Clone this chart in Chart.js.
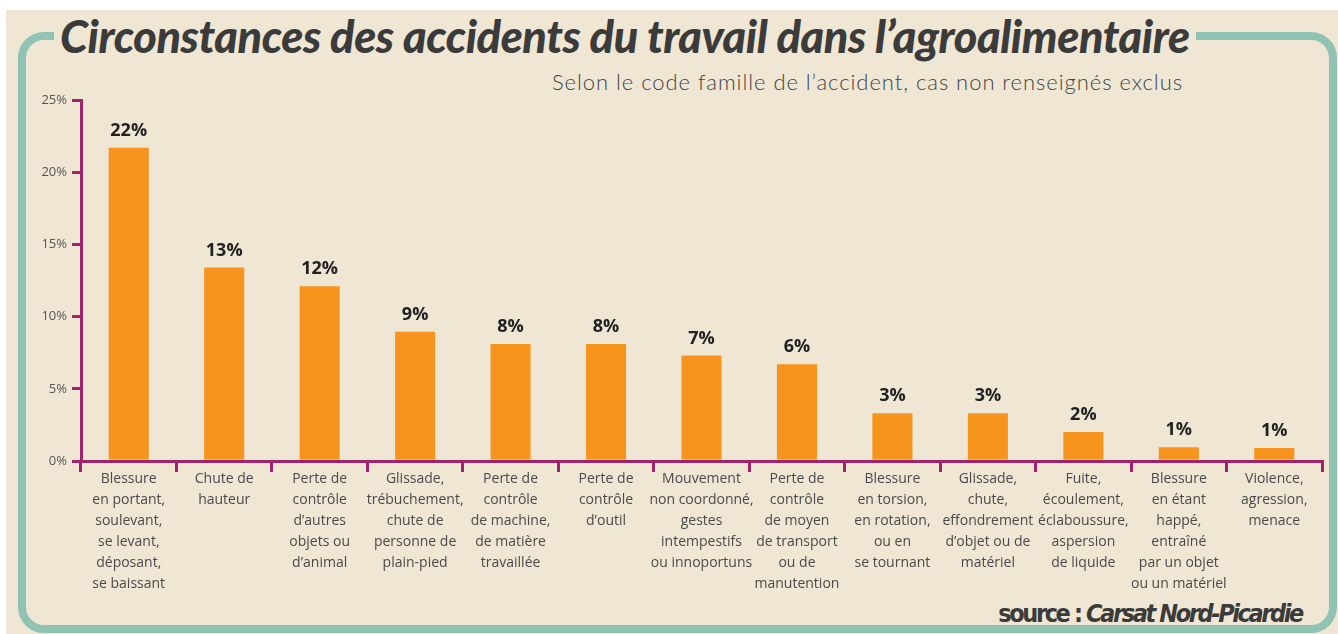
<!DOCTYPE html>
<html>
<head>
<meta charset="utf-8">
<title>Circonstances des accidents du travail dans l’agroalimentaire</title>
<script src="https://cdn.jsdelivr.net/npm/chart.js@4.4.0/dist/chart.umd.min.js"></script>
<style>
    html, body { margin: 0; padding: 0; background: #fff; }
    body { width: 1338px; height: 634px; position: relative; overflow: hidden; }
    #paper { position: absolute; left: 6px; top: 10px; width: 1332px; height: 624px; background: #efe7d4; }
    #frame { position: absolute; left: 18px; top: 32px; width: 1303px; height: 585px;
             border: 8px solid #91c3b5; border-radius: 26px; }
    .txt { position: absolute; white-space: nowrap; color: #3b3b3b; }
    #title { left: 54px; top: 12px; padding: 0 6px; background: #efe7d4;
             font: italic 900 45px/48px Lato, sans-serif; }
    #subtitle { right: 155px; top: 70px; font: 300 22px/24px Lato, sans-serif; color: #444; }
    #source { right: 36px; top: 600px; font: bold 25px/28px "Liberation Sans Narrow", "DejaVu Sans Condensed", sans-serif; }
    #source i { font-style: italic; }
    #wrap { position: absolute; left: 0; top: 0; width: 1338px; height: 634px; }
</style>
</head>
<body>
<div id="paper"></div>
<div id="frame"></div>
<span class="txt" id="title">Circonstances des accidents du travail dans l’agroalimentaire</span>
<span class="txt" id="subtitle">Selon le code famille de l’accident, cas non renseignés exclus</span>
<span class="txt" id="source">source : <i>Carsat Nord-Picardie</i></span>
<div id="wrap"><canvas id="myChart"></canvas></div>

<script>
// categories (multi-line labels as in the picture)
var categories = [
    ['Blessure', 'en portant,', 'soulevant,', 'se levant,', 'déposant,', 'se baissant'],
    ['Chute de', 'hauteur'],
    ['Perte de', 'contrôle', 'd’autres', 'objets ou', 'd’animal'],
    ['Glissade,', 'trébuchement,', 'chute de', 'personne de', 'plain-pied'],
    ['Perte de', 'contrôle', 'de machine,', 'de matière', 'travaillée'],
    ['Perte de', 'contrôle', 'd’outil'],
    ['Mouvement', 'non coordonné,', 'gestes', 'intempestifs', 'ou innoportuns'],
    ['Perte de', 'contrôle', 'de moyen', 'de transport', 'ou de', 'manutention'],
    ['Blessure', 'en torsion,', 'en rotation,', 'ou en', 'se tournant'],
    ['Glissade,', 'chute,', 'effondrement', 'd’objet ou de', 'matériel'],
    ['Fuite,', 'écoulement,', 'éclaboussure,', 'aspersion', 'de liquide'],
    ['Blessure', 'en étant', 'happé,', 'entraîné', 'par un objet', 'ou un matériel'],
    ['Violence,', 'agression,', 'menace']
];

// bar heights in %
var shares = [21.7, 13.4, 12.1, 8.95, 8.1, 8.1, 7.3, 6.7, 3.3, 3.3, 2.0, 0.95, 0.9];

// printed labels above the bars
var shareLabels = ['22%', '13%', '12%', '9%', '8%', '8%', '7%', '6%', '3%', '3%', '2%', '1%', '1%'];

// y axis
var yMin = 0;
var yMax = 25;
var yStep = 5;

var axisColor = '#a0236c';
var barColor = '#f7941d';

// stretch a text to the width it has in the picture
function fitWidth(id, target) {
    var el = document.getElementById(id);
    var pad = id === 'title' ? 12 : 0;
    var w = el.offsetWidth - pad;
    var n = el.textContent.length;
    el.style.letterSpacing = ((target - w) / n) + 'px';
}
fitWidth('title', 1130);
fitWidth('subtitle', 631);
fitWidth('source', 304);

// value labels on top of each bar
var barLabels = {
    id: 'barLabels',
    afterDatasetsDraw: function (chart) {
        var ctx = chart.ctx;
        var meta = chart.getDatasetMeta(0);
        ctx.save();
        ctx.font = 'bold 18px "Open Sans", sans-serif';
        ctx.fillStyle = '#222';
        ctx.textAlign = 'center';
        ctx.textBaseline = 'alphabetic';
        meta.data.forEach(function (bar, i) {
            ctx.fillText(shareLabels[i], bar.x, bar.y - 12);
        });
        ctx.restore();
    }
};

var ctx = document.getElementById('myChart').getContext('2d');
var myChart = new Chart(ctx, {
    type: 'bar',
    data: {
        labels: categories,
        datasets: [{
            data: shares,
            backgroundColor: barColor,
            borderWidth: 0,
            barPercentage: 0.42,
            categoryPercentage: 1
        }]
    },
    options: {
        responsive: true,
        maintainAspectRatio: false,
        animation: false,
        layout: {
            padding: { top: 100, right: 16, bottom: 0, left: 0 }
        },
        plugins: {
            legend: { display: false },
            tooltip: { enabled: false }
        },
        scales: {
            x: {
                offset: true,
                grid: {
                    offset: true,
                    drawOnChartArea: false,
                    color: axisColor,
                    lineWidth: 3,
                    tickLength: 11
                },
                border: { color: axisColor, width: 3 },
                ticks: {
                    autoSkip: false,
                    maxRotation: 0,
                    minRotation: 0,
                    padding: -3,
                    color: '#4a4a4a',
                    font: { family: '"Open Sans", sans-serif', size: 14, lineHeight: 1.5 }
                },
                afterFit: function (scale) { scale.height = 173; }
            },
            y: {
                min: yMin,
                max: yMax,
                grid: {
                    drawOnChartArea: false,
                    color: axisColor,
                    lineWidth: 3,
                    tickLength: 9
                },
                border: { color: axisColor, width: 3 },
                ticks: {
                    stepSize: yStep,
                    padding: 5,
                    color: '#555',
                    font: { family: '"Open Sans", sans-serif', size: 13 },
                    callback: function (value) { return value + '%'; }
                },
                afterFit: function (scale) { scale.width = 81; }
            }
        }
    },
    plugins: [barLabels]
});
</script>
</body>
</html>
